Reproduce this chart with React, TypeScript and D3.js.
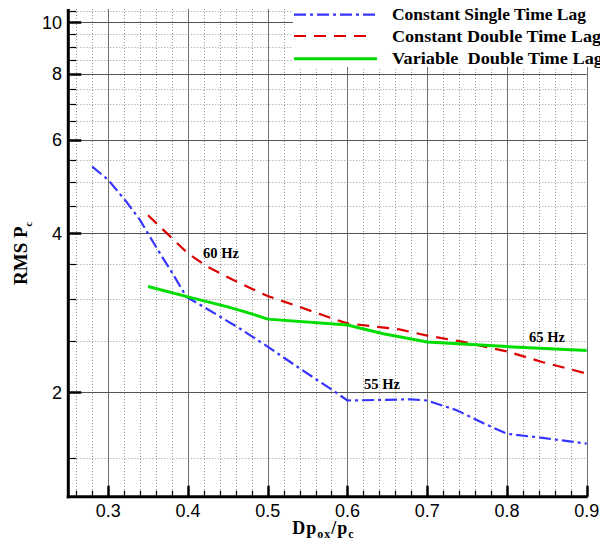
import React from "react";
import * as d3 from "d3";

const singleX = [0.28, 0.30, 0.323, 0.34, 0.35, 0.365, 0.382, 0.398, 0.42, 0.465, 0.50, 0.54, 0.578, 0.60, 0.68, 0.70, 0.737, 0.77, 0.80, 0.845, 0.90];
const singleY = [5.34, 5.04, 4.58, 4.23, 3.99, 3.66, 3.33, 3.03, 2.90, 2.64, 2.44, 2.22, 2.035, 1.93, 1.94, 1.93, 1.85, 1.75, 1.67, 1.64, 1.60];

const doubleX = [0.35, 0.40, 0.425, 0.457, 0.478, 0.50, 0.54, 0.586, 0.60, 0.665, 0.70, 0.745, 0.80, 0.845, 0.90];
const doubleY = [4.32, 3.66, 3.45, 3.26, 3.15, 3.04, 2.90, 2.74, 2.70, 2.63, 2.56, 2.49, 2.39, 2.28, 2.17];

const variableX = [0.35, 0.40, 0.45, 0.478, 0.50, 0.60, 0.645, 0.70, 0.80, 0.90];
const variableY = [3.17, 3.03, 2.90, 2.82, 2.75, 2.68, 2.58, 2.49, 2.44, 2.40];

const seriesNames = ["Constant Single Time Lag", "Constant Double Time Lag", "Variable  Double Time Lag"];
const seriesColors = ["#3535ff", "#dd0000", "#00dd00"];
const seriesDash = ["12,4,3,4", "12,8", "none"];
const seriesWidth = [2.2, 2.2, 3];

const xTicks = [0.3, 0.4, 0.5, 0.6, 0.7, 0.8, 0.9];
const yTicks = [2, 4, 6, 8, 10];

const annotations = [
  { text: "60 Hz", x: 0.419, y: 3.59 },
  { text: "55 Hz", x: 0.6208, y: 2.03 },
  { text: "65 Hz", x: 0.8277, y: 2.49 },
];

const X0 = 68.3, X1 = 586.7, Y0 = 496.7, Y1 = 9;

export default function App() {
  const x = d3.scaleLinear().domain([0.25, 0.9]).range([X0, X1]);
  const y = d3.scaleLog().domain([1.27, 10.6]).range([Y0, Y1]);
  const px = (v: number) => Math.round(x(v)) + 0.5;
  const py = (v: number) => Math.round(y(v)) + 0.5;

  const minorX = d3.range(13, 46).map((i) => i * 0.02).filter((v) => v >= 0.255 && v <= 0.895 && Math.abs(v * 10 - Math.round(v * 10)) > 1e-6);
  const minorY = d3.range(3, 22).map((i) => i * 0.5).filter((v) => v >= 1.3 && v <= 10.55 && v % 2 !== 0);

  const line = d3.line<[number, number]>().x((d) => x(d[0])).y((d) => y(d[1]));
  const data: [number, number][][] = [
    singleX.map((v, i) => [v, singleY[i]]),
    doubleX.map((v, i) => [v, doubleY[i]]),
    variableX.map((v, i) => [v, variableY[i]]),
  ];

  const serif = "'Liberation Serif', 'Times New Roman', serif";
  const sans = "'Liberation Sans', Arial, sans-serif";

  return (
    <svg width={600} height={550} style={{ position: "absolute", left: 0, top: 0, background: "#fff" }}>
      <rect x={0} y={0} width={600} height={550} fill="#fff" />
      {/* minor grid */}
      {minorX.map((v) => (
        <line key={"mx" + v} x1={px(v)} x2={px(v)} y1={Y1} y2={Y0} stroke="#999" strokeWidth={1} strokeDasharray="1,2" />
      ))}
      {minorY.map((v) => (
        <line key={"my" + v} x1={X0} x2={X1} y1={py(v)} y2={py(v)} stroke="#999" strokeWidth={1} strokeDasharray="1,2" />
      ))}
      {/* major grid */}
      {xTicks.map((v) => (
        <line key={"gx" + v} x1={px(v)} x2={px(v)} y1={Y1} y2={Y0} stroke="#707070" strokeWidth={1} />
      ))}
      {yTicks.map((v) => (
        <line key={"gy" + v} x1={X0} x2={X1} y1={py(v)} y2={py(v)} stroke="#555" strokeWidth={1} />
      ))}
      {/* series */}
      {data.map((d, i) => (
        <path key={"s" + i} d={line(d) || ""} fill="none" stroke={seriesColors[i]} strokeWidth={seriesWidth[i]} strokeDasharray={seriesDash[i]} />
      ))}
      {/* annotations */}
      {annotations.map((a) => (
        <text key={a.text} x={x(a.x)} y={y(a.y)} fontFamily={serif} fontWeight="bold" fontSize={14} textLength={36} lengthAdjust="spacingAndGlyphs" fill="#000">
          {a.text}
        </text>
      ))}
      {/* legend */}
      <rect x={293} y={0} width={307} height={67} fill="#fff" />
      {seriesNames.map((name, i) => {
        const ly = [14.7, 36, 58.7][i];
        return (
          <g key={"lg" + i}>
            <line x1={294} x2={[375, 368, 377][i]} y1={ly} y2={ly} stroke={seriesColors[i]} strokeWidth={seriesWidth[i]} strokeDasharray={seriesDash[i]} />
            <text x={392} y={ly + 5.5} fontFamily={serif} fontWeight="bold" fontSize={17} textLength={[194, 209, 211][i]} lengthAdjust="spacingAndGlyphs" fill="#000" style={{ whiteSpace: "pre" }}>
              {name}
            </text>
          </g>
        );
      })}
      {/* axes */}
      <line x1={X0} x2={X0} y1={Y1} y2={Y0 + 1.5} stroke="#000" strokeWidth={3} />
      <line x1={X0 - 1.5} x2={X1 + 1} y1={Y0} y2={Y0} stroke="#000" strokeWidth={3} />
      {yTicks.map((v) => (
        <line key={"ty" + v} x1={X0} x2={X0 + 13} y1={py(v)} y2={py(v)} stroke="#000" strokeWidth={2.5} />
      ))}
      {minorY.map((v) => (
        <line key={"tmy" + v} x1={X0} x2={X0 + 8} y1={py(v)} y2={py(v)} stroke="#000" strokeWidth={1.2} />
      ))}
      {xTicks.map((v) => (
        <line key={"tx" + v} x1={px(v)} x2={px(v)} y1={Y0} y2={Y0 - 11} stroke="#000" strokeWidth={2.5} />
      ))}
      {minorX.map((v) => (
        <line key={"tmx" + v} x1={px(v)} x2={px(v)} y1={Y0} y2={Y0 - 6} stroke="#000" strokeWidth={1.2} />
      ))}
      {/* tick labels */}
      {yTicks.map((v) => (
        <text key={"ly" + v} x={62} y={y(v) + 6.5} textAnchor="end" fontFamily={sans} fontSize={18} fill="#000">
          {v}
        </text>
      ))}
      {xTicks.map((v) => (
        <text key={"lx" + v} x={x(v)} y={516.5} textAnchor="middle" fontFamily={sans} fontSize={18} fill="#000">
          {v.toFixed(1)}
        </text>
      ))}
      {/* axis titles */}
      <text transform="translate(27,253.5) rotate(-90)" textAnchor="middle" fontFamily={serif} fontWeight="bold" fontSize={19} fill="#000">
        RMS P<tspan fontSize={10} dy={5}>c</tspan>
      </text>
      <text x={323.5} y={534} textAnchor="middle" fontFamily={serif} fontWeight="bold" fontSize={18} letterSpacing={1} fill="#000">
        Dp<tspan fontSize={12} dy={4}>ox</tspan>
        <tspan dy={-4}>/p</tspan>
        <tspan fontSize={12} dy={4}>c</tspan>
      </text>
    </svg>
  );
}
